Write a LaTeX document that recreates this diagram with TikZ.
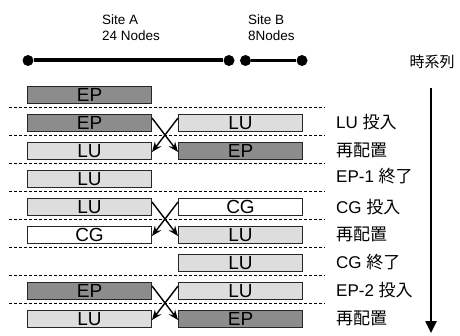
\documentclass[tikz,border=0pt]{standalone}
\usepackage{fontspec}
\setmainfont{Liberation Sans}
\newfontfamily\jp{Noto Sans CJK JP}
\usetikzlibrary{arrows.meta}
\definecolor{epc}{RGB}{140,140,140}
\definecolor{luc}{RGB}{221,221,221}
\begin{document}
\begin{tikzpicture}[x=1pt,y=-1pt,
  box/.style={draw=black!85, line width=1pt, minimum width=124pt, minimum height=17pt,
    inner sep=0pt, font=\fontsize{19}{19}\selectfont, text height=13.6pt, text depth=0pt,
    anchor=north west},
  epbox/.style={box, fill=epc},
  lubox/.style={box, fill=luc},
  cgbox/.style={box, fill=white},
  sepline/.style={dash pattern=on 3pt off 2pt, line width=1.3pt},
  xarr/.style={line width=1.4pt, -{Stealth[length=10pt,width=8pt]}},
  lab/.style={anchor=west, inner sep=0pt, font=\fontsize{17}{17}\selectfont},
  dotnode/.style={circle, fill=black, inner sep=0pt, minimum size=11pt}]
\useasboundingbox (0,0) rectangle (460,336);

% header
\node[anchor=west, align=left, inner sep=0pt, font=\fontsize{13.5}{16}\selectfont] (sa) at (102,28) {Site A\\24 Nodes};
\node[anchor=west, align=left, inner sep=0pt, font=\fontsize{13.5}{16}\selectfont] (sb) at (248,28) {Site B\\8Nodes};
\node[dotnode] (a1) at (28,60.5) {};
\node[dotnode] (a2) at (229,60.5) {};
\node[dotnode] (b1) at (245.5,60.5) {};
\node[dotnode] (b2) at (302,60.5) {};
\draw[line width=4pt] (a1) -- (a2);
\draw[line width=2.5pt] (b1) -- (b2);

% time axis
\node[inner sep=0pt, font=\fontsize{15}{15}\selectfont\jp] (ts) at (432,62) {時系列};
\coordinate (t0) at (431,88);
\coordinate (t1) at (431,333);
\draw[line width=2.5pt, -{Triangle[length=12pt,width=11pt]}] (t0) -- (t1);

% separators
\foreach \k in {0,...,7} {
  \draw[sepline] (9,{107.5+28*\k}) -- (325,{107.5+28*\k});
}

% boxes
\node[epbox] (L0) at (27,86) {EP};
\node[epbox] (L1) at (27,114) {EP};  \node[lubox] (R1) at (178,114) {LU};
\node[lubox] (L2) at (27,142) {LU};  \node[epbox] (R2) at (178,142) {EP};
\node[lubox] (L3) at (27,170) {LU};
\node[lubox] (L4) at (27,198) {LU};  \node[cgbox] (R4) at (178,198) {CG};
\node[cgbox] (L5) at (27,226) {CG};  \node[lubox] (R5) at (178,226) {LU};
\node[lubox] (R6) at (178,254) {LU};
\node[epbox] (L7) at (27,282) {EP};  \node[lubox] (R7) at (178,282) {LU};
\node[lubox] (L8) at (27,310) {LU};  \node[epbox] (R8) at (178,310) {EP};

% crossings
\draw[xarr] ([yshift=-4pt]L1.north east) -- ([yshift=-1pt]R2.west);
\draw[xarr] ([yshift=-4pt]R1.north west) -- ([yshift=-1pt]L2.east);
\draw[xarr] ([yshift=-4pt]L4.north east) -- ([yshift=-1pt]R5.west);
\draw[xarr] ([yshift=-4pt]R4.north west) -- ([yshift=-1pt]L5.east);
\draw[xarr] ([yshift=-4pt]L7.north east) -- ([yshift=-1pt]R8.west);
\draw[xarr] ([yshift=-4pt]R7.north west) -- ([yshift=-1pt]L8.east);

% labels
\node[lab] (n1) at (336,122.5) {LU {\jp 投入}};
\node[lab] (n2) at (336,150.5) {\jp 再配置};
\node[lab] (n3) at (336,176) {EP-1 {\jp 終了}};
\node[lab] (n4) at (336,207) {CG {\jp 投入}};
\node[lab] (n5) at (336,234.5) {\jp 再配置};
\node[lab] (n6) at (336,262.5) {CG {\jp 終了}};
\node[lab] (n7) at (336,290.5) {EP-2 {\jp 投入}};
\node[lab] (n8) at (336,318.5) {\jp 再配置};
\end{tikzpicture}
\end{document}
